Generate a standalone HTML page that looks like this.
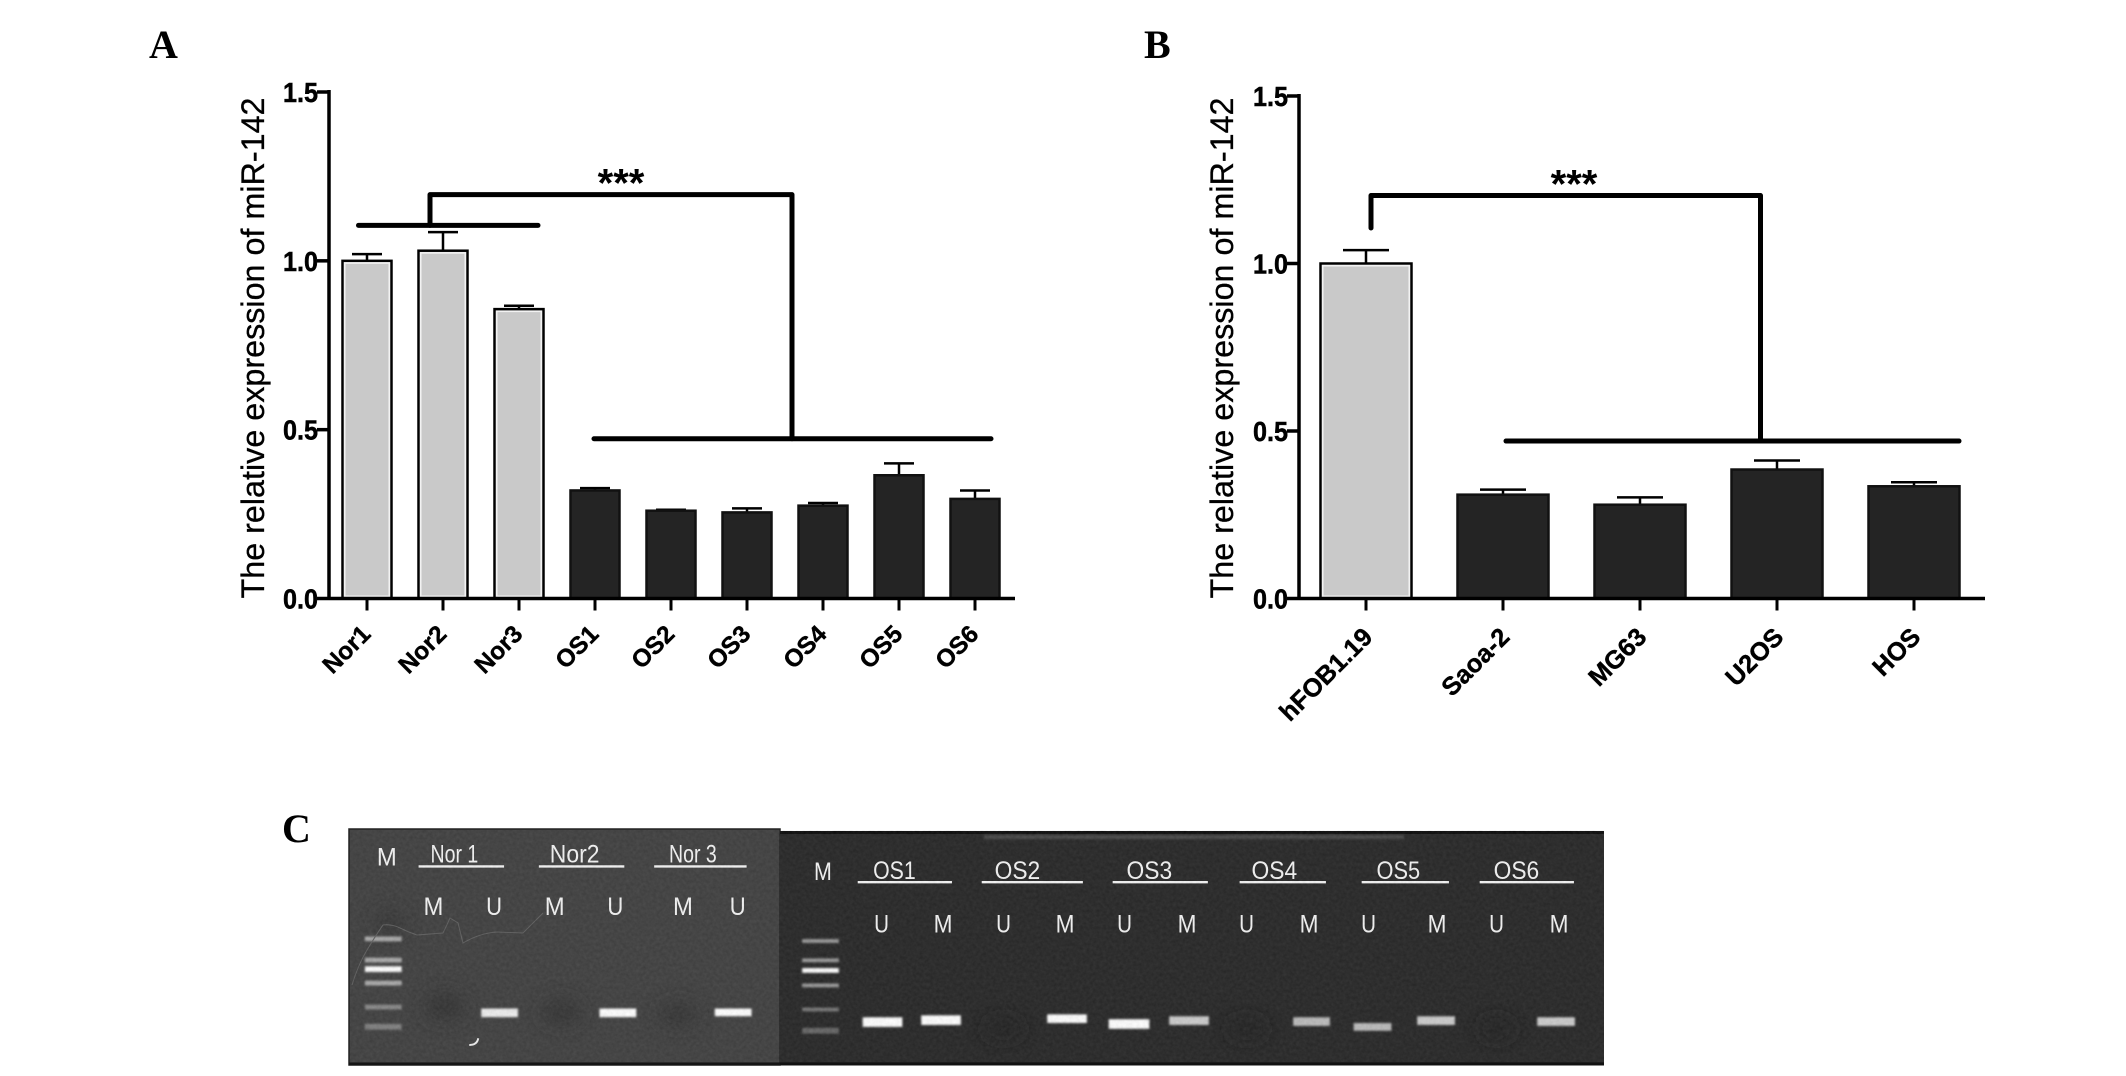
<!DOCTYPE html>
<html lang="en">
<head>
<meta charset="utf-8">
<title>miR-142 expression figure</title>
<style>
html,body{margin:0;padding:0;background:#fff;width:2126px;height:1076px;overflow:hidden}
svg{display:block}
text{font-family:"Liberation Sans",sans-serif}
.letter{font-family:"Liberation Serif",serif;font-weight:bold;font-size:40px;fill:#000}
.gt{fill:#f4f4f4;font-size:26px;text-anchor:middle}
.gl{stroke:#f4f4f4;stroke-width:2.5}
</style>
</head>
<body>
<svg id="figure" xmlns="http://www.w3.org/2000/svg" width="2126" height="1076" viewBox="0 0 2126 1076">
<defs>
<filter id="b1" x="-30%" y="-100%" width="160%" height="300%"><feGaussianBlur stdDeviation="1.1"/></filter>
<filter id="b2" x="-80%" y="-80%" width="260%" height="260%"><feGaussianBlur stdDeviation="10"/></filter>
<filter id="grain" x="0" y="0" width="100%" height="100%" color-interpolation-filters="sRGB"><feTurbulence type="fractalNoise" baseFrequency="0.3" numOctaves="2" seed="7"/><feColorMatrix values="1 0 0 0 0 1 0 0 0 0 1 0 0 0 0 0 0 0 0 0.07"/></filter>
</defs>
<rect width="2126" height="1076" fill="#fff"/>
<text class="letter" x="149" y="58">A</text>
<text class="letter" x="1144" y="58">B</text>
<text class="letter" x="282" y="842">C</text>
<g id="chartA"></g>
<g id="chartB"></g>

<g>
<rect x="349" y="829" width="431" height="236" fill="#414141" stroke="#222" stroke-width="1.5"/>
<g transform="translate(349 829) scale(0.994 0.96) translate(-349 -829)">
<g fill="#323232" filter="url(#b2)">
<ellipse cx="445" cy="1014" rx="20" ry="14"/><ellipse cx="563" cy="1020" rx="20" ry="12"/><ellipse cx="680" cy="1022" rx="20" ry="11"/><ellipse cx="390" cy="926" rx="14" ry="10"/>
</g>
<g fill="#aaa" filter="url(#b1)">
<rect x="365" y="941" width="37" height="5"/><rect x="365" y="963" width="37" height="5"/><rect x="365" y="972" width="37" height="6" fill="#fff"/><rect x="365" y="987" width="37" height="5"/><rect x="365" y="1012" width="37" height="5" fill="#888"/><rect x="365" y="1032" width="37" height="6" fill="#808080"/>
</g>
<g fill="#fff" filter="url(#b1)">
<rect x="482" y="1016" width="37" height="9" fill="#eee"/><rect x="601" y="1016" width="37" height="9"/><rect x="717" y="1016" width="37" height="8"/>
</g>
<g>
<text class="gt" x="387" y="867" textLength="20" lengthAdjust="spacingAndGlyphs">M</text>
<text class="gt" x="455" y="864" textLength="48" lengthAdjust="spacingAndGlyphs">Nor 1</text>
<text class="gt" x="576" y="864" textLength="50" lengthAdjust="spacingAndGlyphs">Nor2</text>
<text class="gt" x="695" y="864" textLength="48" lengthAdjust="spacingAndGlyphs">Nor 3</text>
<line class="gl" x1="419" x2="505" y1="868" y2="868"/>
<line class="gl" x1="540" x2="626" y1="868" y2="868"/>
<line class="gl" x1="656" x2="749" y1="868" y2="868"/>
<text class="gt" x="434" y="918.5" textLength="20" lengthAdjust="spacingAndGlyphs">M</text>
<text class="gt" x="495" y="918.5" textLength="16" lengthAdjust="spacingAndGlyphs">U</text>
<text class="gt" x="556" y="918.5" textLength="20" lengthAdjust="spacingAndGlyphs">M</text>
<text class="gt" x="617" y="918.5" textLength="16" lengthAdjust="spacingAndGlyphs">U</text>
<text class="gt" x="685" y="918.5" textLength="20" lengthAdjust="spacingAndGlyphs">M</text>
<text class="gt" x="740" y="918.5" textLength="16" lengthAdjust="spacingAndGlyphs">U</text>
</g>
<path d="M470 1054 Q478 1054 479 1047" fill="none" stroke="#eee" stroke-width="2"/>
</g>
<path d="M352 985 Q358 965 367 950 T383 925 Q392 924 400 928 T417 935 L443 933 Q447 925 450 918 L458 923 L463 943 Q480 933 497 932 L523 933 L543 913" fill="none" stroke="#606060" stroke-width="1"/>
<rect x="349" y="1062.5" width="431" height="3" fill="#151515"/>
</g>

<g>
<rect x="780" y="831" width="824" height="234.5" fill="#282828"/>
<rect x="780" y="831" width="824" height="3" fill="#0c0c0c"/>
<rect x="984" y="835" width="420" height="4" fill="#4a4a4a" filter="url(#b1)"/>
<g transform="translate(822 831) scale(0.992 0.965) translate(-822 -831)">
<g fill="#202020" filter="url(#b2)">
<ellipse cx="1005" cy="1036" rx="20" ry="10"/><ellipse cx="1250" cy="1036" rx="20" ry="10"/><ellipse cx="1502" cy="1036" rx="18" ry="10"/>
</g>
<g fill="#999" filter="url(#b1)">
<rect x="802" y="943" width="37" height="4"/><rect x="802" y="963" width="37" height="4"/><rect x="802" y="973" width="37" height="5" fill="#fff"/><rect x="802" y="989" width="37" height="4"/><rect x="802" y="1014" width="37" height="4" fill="#777"/><rect x="802" y="1035" width="37" height="6" fill="#666"/>
</g>
<g fill="#fff" filter="url(#b1)">
<rect x="863" y="1024" width="40" height="10"/><rect x="922" y="1022" width="40" height="10"/><rect x="1049" y="1021" width="40" height="9"/><rect x="1111" y="1026" width="41" height="10"/>
<rect x="1172" y="1023" width="40" height="9" fill="#ccc"/><rect x="1297" y="1024" width="37" height="9" fill="#bbb"/><rect x="1358" y="1030" width="38" height="8" fill="#bbb"/><rect x="1422" y="1023" width="38" height="9" fill="#ccc"/><rect x="1543" y="1024" width="38" height="9" fill="#ccc"/>
</g>
<g>
<text class="gt" x="823" y="882" textLength="18" lengthAdjust="spacingAndGlyphs">M</text>
<text class="gt" x="895" y="881" textLength="43" lengthAdjust="spacingAndGlyphs">OS1</text>
<text class="gt" x="1019" y="881" textLength="46" lengthAdjust="spacingAndGlyphs">OS2</text>
<text class="gt" x="1152" y="881" textLength="46" lengthAdjust="spacingAndGlyphs">OS3</text>
<text class="gt" x="1278" y="881" textLength="46" lengthAdjust="spacingAndGlyphs">OS4</text>
<text class="gt" x="1403" y="881" textLength="44" lengthAdjust="spacingAndGlyphs">OS5</text>
<text class="gt" x="1522" y="881" textLength="46" lengthAdjust="spacingAndGlyphs">OS6</text>
<line class="gl" x1="858" x2="953" y1="884" y2="884"/>
<line class="gl" x1="983" x2="1085" y1="884" y2="884"/>
<line class="gl" x1="1115" x2="1211" y1="884" y2="884"/>
<line class="gl" x1="1243" x2="1330" y1="884" y2="884"/>
<line class="gl" x1="1366" x2="1454" y1="884" y2="884"/>
<line class="gl" x1="1485" x2="1580" y1="884" y2="884"/>
<text class="gt" x="882" y="936" textLength="15" lengthAdjust="spacingAndGlyphs">U</text>
<text class="gt" x="944" y="936" textLength="19" lengthAdjust="spacingAndGlyphs">M</text>
<text class="gt" x="1005" y="936" textLength="15" lengthAdjust="spacingAndGlyphs">U</text>
<text class="gt" x="1067" y="936" textLength="19" lengthAdjust="spacingAndGlyphs">M</text>
<text class="gt" x="1127" y="936" textLength="15" lengthAdjust="spacingAndGlyphs">U</text>
<text class="gt" x="1190" y="936" textLength="19" lengthAdjust="spacingAndGlyphs">M</text>
<text class="gt" x="1250" y="936" textLength="15" lengthAdjust="spacingAndGlyphs">U</text>
<text class="gt" x="1313" y="936" textLength="19" lengthAdjust="spacingAndGlyphs">M</text>
<text class="gt" x="1373" y="936" textLength="15" lengthAdjust="spacingAndGlyphs">U</text>
<text class="gt" x="1442" y="936" textLength="19" lengthAdjust="spacingAndGlyphs">M</text>
<text class="gt" x="1502" y="936" textLength="15" lengthAdjust="spacingAndGlyphs">U</text>
<text class="gt" x="1565" y="936" textLength="19" lengthAdjust="spacingAndGlyphs">M</text>
</g>
</g>
<rect x="780" y="1062.5" width="824" height="3" fill="#111"/>
</g>
<rect x="350" y="830" width="1254" height="232" filter="url(#grain)"/>
</svg>

<script>
const yTickValues = [0, 0.5, 1, 1.5];
const yTickLabels = ["0.0", "0.5", "1.0", "1.5"];
const yAxisTitle = "The relative expression of miR-142";
const significanceLabel = "***";

const categoriesA = ["Nor1", "Nor2", "Nor3", "OS1", "OS2", "OS3", "OS4", "OS5", "OS6"];
const valuesA = [1.0, 1.03, 0.857, 0.32, 0.26, 0.255, 0.275, 0.365, 0.295];
const errorsA = [0.02, 0.055, 0.01, 0.007, 0.003, 0.012, 0.008, 0.035, 0.025];
const groupsA = ["normal", "normal", "normal", "tumor", "tumor", "tumor", "tumor", "tumor", "tumor"];

const categoriesB = ["hFOB1.19", "Saoa-2", "MG63", "U2OS", "HOS"];
const valuesB = [1.0, 0.31, 0.28, 0.385, 0.335];
const errorsB = [0.04, 0.015, 0.022, 0.027, 0.012];
const groupsB = ["normal", "tumor", "tumor", "tumor", "tumor"];

const NS = "http://www.w3.org/2000/svg";

function makeEl(parent, tag, attrs) {
  const el = document.createElementNS(NS, tag);
  for (const k in attrs) el.setAttribute(k, attrs[k]);
  parent.appendChild(el);
  return el;
}

function drawChart(root, layout, categories, values, errors, groups) {
  const yScale = v => layout.y0 - (v / 1.5) * (layout.y0 - layout.yTop);
  const xScale = i => layout.x0 + i * layout.step;

  categories.forEach((name, i) => {
    const top = yScale(values[i]);
    const cx = xScale(i);
    const light = groups[i] === "normal";

    const err = makeEl(root, "path", {
      d: `M${cx} ${top} V${yScale(values[i] + errors[i])} M${cx - layout.cap} ${yScale(values[i] + errors[i])} H${cx + layout.cap}`,
      fill: "none", stroke: "#000", "stroke-width": 2.5
    });
    
    

    const bar = makeEl(root, "rect", {
      x: cx - layout.barW / 2, y: top, width: layout.barW, height: layout.y0 - top,
      fill: light ? "#c9c9c9" : "#242424", stroke: light ? "#000" : "#111", "stroke-width": 2.5
    });
    
    

    if (light) {
      const inner = makeEl(root, "rect", {
        x: cx - layout.barW / 2 + 2.2, y: top + 2.2, width: layout.barW - 4.4, height: layout.y0 - top - 4.4,
        fill: "none", stroke: "#f2f2f2", "stroke-width": 1.6
      });
      
      
    }

    const tick = makeEl(root, "line", {
      x1: cx, x2: cx, y1: layout.y0, y2: layout.y0 + 12, stroke: "#000", "stroke-width": 3
    });
    
    

    const lx = cx + layout.labelDx, ly = layout.y0 + layout.labelDy;
    const label = makeEl(root, "text", {
      x: lx, y: ly, transform: `rotate(-45 ${lx} ${ly})`, "text-anchor": "end",
      "font-size": layout.labelSize, "font-weight": "bold", fill: "#000", stroke: "#000", "stroke-width": 0.4
    });
    label.textContent = name;
    
    
  });

  const yAxis = makeEl(root, "line", {
    x1: layout.axisX, x2: layout.axisX, y1: layout.yTop - 2, y2: layout.y0 + 1.5, stroke: "#000", "stroke-width": 3.5
  });
  
  

  const xAxis = makeEl(root, "line", {
    x1: layout.axisX, x2: layout.xEnd, y1: layout.y0, y2: layout.y0, stroke: "#000", "stroke-width": 3.5
  });
  
  

  yTickValues.forEach((v, i) => {
    const y = yScale(v);
    const tick = makeEl(root, "line", {
      x1: layout.axisX - 12, x2: layout.axisX, y1: y, y2: y, stroke: "#000", "stroke-width": 3.5
    });
    
    

    const label = makeEl(root, "text", {
      x: layout.axisX - 11 - 35, y: y + 10, "font-size": 28, "font-weight": "bold",
      textLength: 35, lengthAdjust: "spacingAndGlyphs", fill: "#000", stroke: "#000", "stroke-width": 0.5
    });
    label.textContent = yTickLabels[i];
    
    
  });

  const tx = layout.titleX, ty = layout.y0;
  const title = makeEl(root, "text", {
    x: tx, y: ty, transform: `rotate(-90 ${tx} ${ty})`, "font-size": 32,
    textLength: 501, lengthAdjust: "spacingAndGlyphs", fill: "#000", stroke: "#000", "stroke-width": 0.3
  });
  title.textContent = yAxisTitle;
  
  

  const b = layout.bracket;
  const bracket = makeEl(root, "path", {
    d: `M${b.leftX} ${yScale(b.leftV)} V${yScale(b.topV)} H${b.rightX} V${yScale(b.rightV)}`,
    fill: "none", stroke: "#000", "stroke-width": 5, "stroke-linejoin": "round", "stroke-linecap": "round"
  });
  
  

  const rightLine = makeEl(root, "line", {
    x1: b.rX1, x2: b.rX2, y1: yScale(b.rightV), y2: yScale(b.rightV),
    stroke: "#000", "stroke-width": 5, "stroke-linecap": "round"
  });
  
  

  if (b.lX1) {
    const leftLine = makeEl(root, "line", {
      x1: b.lX1, x2: b.lX2, y1: yScale(b.leftV), y2: yScale(b.leftV),
      stroke: "#000", "stroke-width": 5, "stroke-linecap": "round"
    });
    
    
  }

  const star = makeEl(root, "text", {
    x: b.starX, y: yScale(b.topV) + 2, "text-anchor": "middle", "font-size": 40, "font-weight": "bold", fill: "#000"
  });
  star.textContent = significanceLabel;
  
  
}

drawChart(document.getElementById("chartA"),
  { axisX: 329, xEnd: 1015, y0: 598.5, yTop: 92, x0: 367, step: 76, barW: 49, cap: 15, titleX: 264,
    labelDx: 5, labelDy: 37, labelSize: 24.5,
    bracket: { leftX: 430, leftV: 1.105, topV: 1.196, rightX: 792, rightV: 0.473, rX1: 594, rX2: 991, lX1: 358.5, lX2: 538, starX: 621 } },
  categoriesA, valuesA, errorsA, groupsA);

drawChart(document.getElementById("chartB"),
  { axisX: 1299, xEnd: 1985, y0: 598.5, yTop: 96, x0: 1366, step: 137, barW: 91, cap: 23, titleX: 1233,
    labelDx: 8, labelDy: 40, labelSize: 25.5,
    bracket: { leftX: 1371, leftV: 1.106, topV: 1.203, rightX: 1760.5, rightV: 0.47, rX1: 1506, rX2: 1959, lX1: 0, lX2: 0, starX: 1574 } },
  categoriesB, valuesB, errorsB, groupsB);
</script>
</body>
</html>
